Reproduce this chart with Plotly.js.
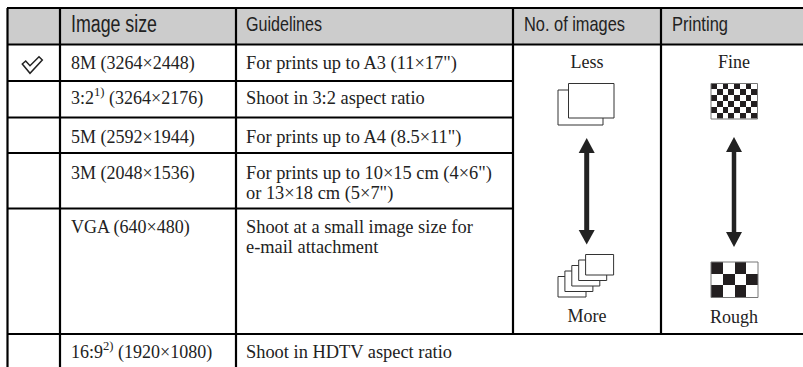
<!DOCTYPE html>
<html><head><meta charset="utf-8">
<script src="https://cdn.plot.ly/plotly-3.0.0.min.js"></script>
<style>html,body{margin:0;padding:0;background:#fff}#c{width:803px;height:367px}</style>
</head><body><div id="c"></div>
<script>
const headers = ["Image size","Guidelines","No. of images","Printing"];
const imageSizes = ["8M (3264×2448)","3:2<sup>1)</sup> (3264×2176)","5M (2592×1944)","3M (2048×1536)","VGA (640×480)","16:9<sup>2)</sup> (1920×1080)"];
const guidelines = ["For prints up to A3 (11×17\")","Shoot in 3:2 aspect ratio","For prints up to A4 (8.5×11\")","For prints up to 10×15 cm (4×6\")","or 13×18 cm (5×7\")","Shoot at a small image size for","e-mail attachment","Shoot in HDTV aspect ratio"];
const imageCountLabels = ["Less","More"];
const printingLabels = ["Fine","Rough"];
const fineChecker = [[1,0,1,0,1,0,1,0],[0,1,0,1,0,1,0,1],[1,0,1,0,1,0,1,0],[0,1,0,1,0,1,0,1],[1,0,1,0,1,0,1,0],[0,1,0,1,0,1,0,1]];
const roughChecker = [[1,0,1,0],[0,1,0,1],[1,0,1,0]];

// page geometry (px on a 803x367 axis)
const W=803,H=367;
const colX=[7.5,60,236,513,661];
const rowY=[8,44.5,81,117.5,153,208.5,334];
const sizeMid=[64,99.5,138,174,228,353];
const guideMid=[64,99.5,138,174,194,228,248,353];
const headerX=[71,246,524,672];
const headerWidths=[86,76,101,56];

const shapes=[];
const line=(x0,y0,x1,y1,w,c)=>shapes.push({type:'line',x0,y0,x1,y1,line:{color:c||'#000',width:w||2.2},layer:'above'});
shapes.push({type:'rect',x0:colX[0],x1:W,y0:rowY[0],y1:rowY[1],fillcolor:'#cccccc',line:{width:0},layer:'below'});
line(colX[0]-0.5,rowY[0],W,rowY[0]);
line(colX[0]-0.5,rowY[1],W,rowY[1]);
line(colX[0]-0.5,rowY[6],W,rowY[6]);
[rowY[2],rowY[3],rowY[4],rowY[5]].forEach(y=>line(colX[0],y,colX[3],y));
line(colX[0],rowY[0],colX[0],H);line(colX[1],rowY[0],colX[1],H);line(colX[2],rowY[0],colX[2],H);
line(colX[3],rowY[0],colX[3],rowY[6]);line(colX[4],rowY[0],colX[4],rowY[6]);

// check mark
shapes.push({type:'path',path:'M22.3 64 L25.7 61 L30 65.7 L39 56.7 L42.3 60 L30 73.3 Z',line:{color:'#222',width:1.5},fillcolor:'#fff',layer:'above'});

// stacked image icons
const stackRect=(x0,y0,x1,y1)=>shapes.push({type:'rect',x0,y0,x1,y1,fillcolor:'#fff',line:{color:'#333',width:1},layer:'above'});
stackRect(558,90,603,125);stackRect(568.5,83.5,614,118);
for(let i=0;i<5;i++){const dx=i*6.9,dy=i*5.5;stackRect(558+dx,276.5-dy,586+dx,297-dy);}

// checker borders
const border=(x0,y0,x1,y1)=>shapes.push({type:'rect',x0,y0,x1,y1,fillcolor:'rgba(0,0,0,0)',line:{color:'#777',width:1},layer:'above'});
border(711,83.5,757.5,119);border(711,262,758,297.5);

// arrows
const arrow=(x,t,bt,bb,b,sw)=>{
  shapes.push({type:'rect',x0:x-sw/2,x1:x+sw/2,y0:bt,y1:bb,fillcolor:'#222',line:{width:0},layer:'above'});
  shapes.push({type:'path',path:`M${x} ${t} L${x-8} ${bt} L${x+8} ${bt} Z`,fillcolor:'#222',line:{width:0},layer:'above'});
  shapes.push({type:'path',path:`M${x} ${b} L${x-8} ${bb} L${x+8} ${bb} Z`,fillcolor:'#222',line:{width:0},layer:'above'});
};
arrow(586.7,138,153,230,244.5,5);
arrow(734,137,152,232,247,4.5);

const textTrace=(x,y,text,pos,font)=>({type:'scatter',mode:'text',x,y,text,textposition:pos,textfont:font,hoverinfo:'skip',showlegend:false,cliponaxis:false});
const serif=s=>({family:'"Liberation Serif",serif',size:s,color:'#222'});
const checker=(z,x0,y0,dx,dy)=>({type:'heatmap',z,x0,y0,dx,dy,zmin:0,zmax:1,colorscale:[[0,'#ffffff'],[1,'#231f20']],showscale:false,hoverinfo:'skip'});

const data=[
 checker(fineChecker,711+2.9,83.5+2.95,5.8,5.9),
 checker(roughChecker,711+5.9,262+5.9,11.8,11.8),
 textTrace(headerX,[26,26,26,26],headers,'middle right',{family:'"Liberation Sans",sans-serif',size:[23,21,21,21],color:'#222'}),
 textTrace(imageSizes.map(()=>71),sizeMid,imageSizes,'middle right',serif(18)),
 textTrace(guidelines.map(()=>246),guideMid,guidelines,'middle right',serif(18.4)),
 textTrace([587,587],[63,317],imageCountLabels,'middle center',serif(18)),
 textTrace([734,734],[63,318],printingLabels,'middle center',serif(18))
];
const layout={width:W,height:H,margin:{l:0,r:0,t:0,b:0},paper_bgcolor:'#fff',plot_bgcolor:'#fff',showlegend:false,
 xaxis:{range:[0,W],visible:false,fixedrange:true},
 yaxis:{range:[H,0],visible:false,fixedrange:true},shapes};
Plotly.newPlot('c',data,layout,{displayModeBar:false,staticPlot:true}).then(()=>{
  // the header face is a condensed grotesque: squeeze the glyphs to the measured widths
  document.querySelectorAll('#c .textpoint text').forEach(t=>{
    const i=headers.indexOf(t.textContent);
    if(i>=0){t.setAttribute('textLength',headerWidths[i]);t.setAttribute('lengthAdjust','spacingAndGlyphs');}
  });
});
</script></body></html>
